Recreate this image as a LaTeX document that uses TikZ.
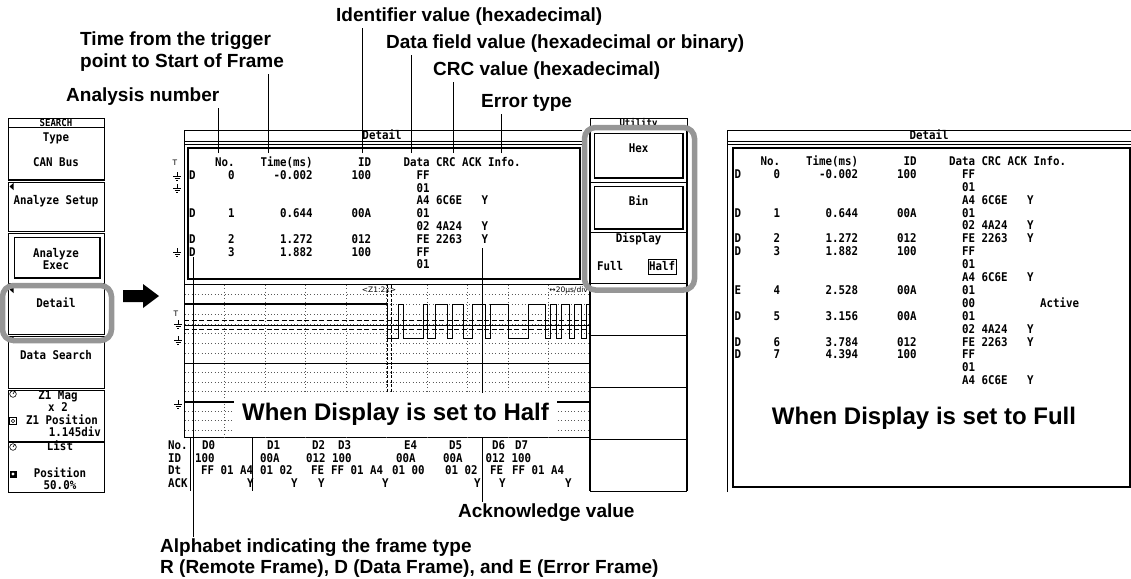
\documentclass[tikz,border=0pt]{standalone}
\usepackage{fontspec}
\setmainfont{Liberation Sans}
\newfontfamily\monof{DejaVu Sans Mono}[FakeStretch=0.9]
\newfontfamily\dvsf{DejaVu Sans}
\usetikzlibrary{calc}
\definecolor{hlgray}{RGB}{150,150,150}
\tikzset{
 mono/.style={font=\monof\bfseries\fontsize{12}{13}\selectfont, inner sep=0pt, anchor=base west},
 monoc/.style={font=\monof\bfseries\fontsize{12}{13}\selectfont, inner sep=0pt, anchor=base},
 hdrtxt/.style={font=\monof\bfseries\fontsize{10}{11}\selectfont, inner sep=0pt, anchor=base},
 lab/.style={font=\bfseries\fontsize{19}{22}\selectfont, inner sep=0pt, anchor=west},
 biglab/.style={font=\bfseries\fontsize{24}{28}\selectfont, inner sep=0pt},
 callout/.style={line width=0.9pt},
 frame/.style={line width=1pt},
 thickframe/.style={line width=2pt},
 gdots/.style={line width=0.7pt, dash pattern=on 0.7pt off 2.6pt, black!65},
 hlbox/.style={draw=hlgray, line width=5.5pt, rounded corners=11pt},
 small/.style={font=\dvsf\fontsize{7.5}{8}\selectfont, inner sep=0pt}
}
\newcommand\tX{0}\newcommand\tY{0}\newcommand\tD{0}
\newcommand\rc[3]{\node[mono] at ({\tX+6.5*(#1)},{\tY+4.3+\tD*(#2)}) {#3};}
\newcommand\hdrrow{\rc{4}{-1}{No.}\rc{11}{-1}{Time(ms)}\rc{26}{-1}{ID}\rc{33}{-1}{Data}\rc{38}{-1}{CRC}\rc{42}{-1}{ACK}\rc{46}{-1}{Info.}}
\newcommand\rowsA{%
 \rc{0}{0}{D}\rc{6}{0}{0}\rc{13}{0}{-0.002}\rc{25}{0}{100}\rc{35}{0}{FF}
 \rc{35}{1}{01}
 \rc{35}{2}{A4}\rc{38}{2}{6C6E}\rc{45}{2}{Y}
 \rc{0}{3}{D}\rc{6}{3}{1}\rc{14}{3}{0.644}\rc{25}{3}{00A}\rc{35}{3}{01}
 \rc{35}{4}{02}\rc{38}{4}{4A24}\rc{45}{4}{Y}
 \rc{0}{5}{D}\rc{6}{5}{2}\rc{14}{5}{1.272}\rc{25}{5}{012}\rc{35}{5}{FE}\rc{38}{5}{2263}\rc{45}{5}{Y}
 \rc{0}{6}{D}\rc{6}{6}{3}\rc{14}{6}{1.882}\rc{25}{6}{100}\rc{35}{6}{FF}
 \rc{35}{7}{01}}
\newcommand\rowsB{%
 \rc{35}{8}{A4}\rc{38}{8}{6C6E}\rc{45}{8}{Y}
 \rc{0}{9}{E}\rc{6}{9}{4}\rc{14}{9}{2.528}\rc{25}{9}{00A}\rc{35}{9}{01}
 \rc{35}{10}{00}\rc{47}{10}{Active}
 \rc{0}{11}{D}\rc{6}{11}{5}\rc{14}{11}{3.156}\rc{25}{11}{00A}\rc{35}{11}{01}
 \rc{35}{12}{02}\rc{38}{12}{4A24}\rc{45}{12}{Y}
 \rc{0}{13}{D}\rc{6}{13}{6}\rc{14}{13}{3.784}\rc{25}{13}{012}\rc{35}{13}{FE}\rc{38}{13}{2263}\rc{45}{13}{Y}
 \rc{0}{14}{D}\rc{6}{14}{7}\rc{14}{14}{4.394}\rc{25}{14}{100}\rc{35}{14}{FF}
 \rc{35}{15}{01}
 \rc{35}{16}{A4}\rc{38}{16}{6C6E}\rc{45}{16}{Y}}
\newcommand\gnd[2]{\draw[line width=0.6pt] (#1,#2-4) -- (#1,#2) (#1-4,#2) -- (#1+4,#2) (#1-2.5,#2+2) -- (#1+2.5,#2+2) (#1-1,#2+4) -- (#1+1,#2+4);}
\newcommand\ltri[2]{\fill (#1,#2) -- (#1+4,#2-3.5) -- (#1+4,#2+3.5) -- cycle;}
\begin{document}
\begin{tikzpicture}[x=1pt,y=-1pt]
\useasboundingbox (0,0) rectangle (1131,578);

%% ================= left menu
\draw[frame] (8,127) |- (104,118) -- (104,127);
\draw[frame] (8,127) -- (104,127);
\node[hdrtxt] (search) at (56,126) {SEARCH};
\draw[frame] (8,127) rectangle (104,180);
\draw[line width=1.8pt] (8,180) -- (104,180);
\node[monoc] (type) at (56,141) {Type};
\node[monoc] (canbus) at (56,166) {CAN Bus};
\draw[frame] (8,182) rectangle (104,231);
\ltri{9.5}{186.5}
\node[monoc] (asetup) at (56,204) {Analyze Setup};
\draw[frame] (8,233) rectangle (104,283);
\draw[frame] (14,237) rectangle (100,278);
\draw[line width=2pt] (14,278) -- (100,278) -- (100,237);
\node[monoc] (aexec1) at (56,257) {Analyze};
\node[monoc] (aexec2) at (56,269) {Exec};
\draw[frame] (8,285) rectangle (104,334);
\ltri{9.5}{289.5}
\node[monoc] (detailbtn) at (56,307) {Detail};
\draw[frame] (8,336) rectangle (104,388);
\ltri{9.5}{339.5}
\node[monoc] (dsearch) at (56,359) {Data Search};
\draw[frame] (8,390) rectangle (104,441);
\draw[line width=0.6pt] (13,394) circle (3.3) (13,394) -- (14.5,391.5);
\draw[line width=0.6pt] (9.5,417.5) rectangle (16.5,424.5) (13,421) circle (1.8);
\node[monoc] (zmag) at (58,399) {Z1 Mag};
\node[monoc] (zx) at (58,411) {x 2};
\node[monoc] (zpos) at (62,424) {Z1 Position};
\node[mono,anchor=base east] (zdiv) at (101,436) {1.145div};
\draw[frame] (8,442) rectangle (104,492);
\draw[line width=0.6pt] (13,447) circle (3.3) (13,447) -- (14.5,444.5);
\fill (9.5,470.5) rectangle (16.5,477.5);
\fill[white] (13,474) circle (1.6);
\node[monoc] (list) at (60,450) {List};
\node[monoc] (lpos) at (60,477) {Position};
\node[monoc] (lpct) at (60,489) {50.0\%};

%% big arrow
\fill (123,290) -- (143,290) -- (143,284) -- (159,296) -- (143,308) -- (143,302) -- (123,302) -- cycle;

%% ================= half screen
\draw[frame] (184,437) -- (184,130) -- (582,130);
\draw[frame] (184,141) -- (582,141);
\draw[frame] (184,144) -- (582,144);
\node[monoc] (dtitle1) at (382,139.5) {Detail};
\draw[thickframe] (188,148) rectangle (580,279);
\renewcommand\tX{189}\renewcommand\tY{175}\renewcommand\tD{12.8}
\hdrrow
\rowsA
% markers
\node[small,anchor=base] (trg1) at (175,165) {T};
\gnd{177}{176}\gnd{177}{188}\gnd{177}{252}

% waveform area
\draw[frame] (184,284) rectangle (589,437);
\foreach \k in {1,...,9} \draw[gdots] ({184+40.5*\k},285) -- ({184+40.5*\k},437);
\foreach \k in {1,...,7} \draw[gdots] (185,{285+9.75*\k}) -- (589,{285+9.75*\k});
\foreach \k in {1,...,7} \draw[gdots] (185,{363+9.6*\k}) -- (589,{363+9.6*\k});
\draw[frame] (184,363) -- (589,363);
\draw[line width=0.8pt] (184,325) -- (589,325);
\draw[line width=0.8pt, dash pattern=on 5pt off 2.5pt] (184,320) -- (589,320) (184,329) -- (589,329);
\draw[line width=1.4pt] (184,304) -- (387,304);
\draw[line width=0.9pt] (387,304) -- (387,338) -- (398,338) -- (398,304) -- (403,304) -- (403,338) -- (423,338) -- (423,304) -- (427,304) -- (427,338) -- (435,338) -- (435,304) -- (447,304) -- (447,338) -- (452,338) -- (452,304) -- (463,304) -- (463,338) -- (472,338) -- (472,304) -- (485,304) -- (485,338) -- (490,338) -- (490,304) -- (508,304) -- (508,338) -- (528,338) -- (528,304) -- (545,304) -- (545,338) -- (550,338) -- (550,304) -- (556,304) -- (556,338) -- (561,338) -- (561,304) -- (569,304) -- (569,338) -- (574,338) -- (574,304) -- (581,304) -- (581,338) -- (586,338) -- (586,304) -- (589,304);
\draw[line width=1.2pt] (184,402) -- (589,402);
\draw[line width=0.7pt, dash pattern=on 3pt off 1.5pt] (387,285) -- (387,437) (391,285) -- (391,437);
\node[small] (zoomlab) at (379,290) {<Z1:2x>};
\node[small,anchor=east] (tdiv) at (588,290) {↔20µs/div};
\node[small,anchor=base] (trg2) at (176,316) {T};
\gnd{178}{324}\gnd{178}{340}\gnd{178}{404}

%% callouts
\node[lab] (lab-id) at (336,17) {Identifier value (hexadecimal)};
\node[lab] (lab-time1) at (80,41) {Time from the trigger};
\node[lab] (lab-time2) at (80,63) {point to Start of Frame};
\node[lab] (lab-data) at (386,44) {Data field value (hexadecimal or binary)};
\node[lab] (lab-crc) at (433,71) {CRC value (hexadecimal)};
\node[lab] (lab-ana) at (66,97) {Analysis number};
\node[lab] (lab-err) at (481,103) {Error type};
\node[lab] (lab-ack) at (458,513) {Acknowledge value};
\node[lab] (lab-alpha1) at (160,548) {Alphabet indicating the frame type};
\node[lab] (lab-alpha2) at (160,569) {R (Remote Frame), D (Data Frame), and E (Error Frame)};
\coordinate (e-ana) at (218,153);
\coordinate (e-time) at (268,153);
\coordinate (e-id) at (362,153);
\coordinate (e-data) at (411,153);
\coordinate (e-crc) at (453,153);
\coordinate (e-err) at (501,153);
\coordinate (e-ack) at (482,248);
\coordinate (e-alpha) at (193,257);
\draw[callout] (e-ana) -- ([yshift=-2pt]e-ana |- lab-ana.south);
\draw[callout] (e-time) -- ([yshift=-2pt]e-time |- lab-time2.south);
\draw[callout] (e-id) -- ([yshift=-2pt]e-id |- lab-id.south);
\draw[callout] (e-data) -- ([yshift=-2pt]e-data |- lab-data.south);
\draw[callout] (e-crc) -- ([yshift=-2pt]e-crc |- lab-crc.south);
\draw[callout] (e-err) -- ([yshift=-2pt]e-err |- lab-err.south);
\draw[callout] (e-ack) -- ([yshift=2pt]e-ack |- lab-ack.north);
\draw[callout] (e-alpha) -- ([yshift=2pt]e-alpha |- lab-alpha1.north);

\node[biglab, fill=white, minimum width=323pt, minimum height=44pt] (halflab) at (395.5,414.5) {When Display is set to Half};

% bottom list
\foreach \yy/\lbl in {449/No., 462/ID, 474/Dt, 487/ACK} \node[mono] at (168,\yy) {\lbl};
\draw[frame] (190,438) -- (190,491);
\draw[frame] (252,438) -- (252,491);
\foreach \xx/\lbl in {202/D0, 267/D1, 312/D2, 338/D3, 404/E4, 449/D5, 492/D6, 515/D7} \node[mono] at (\xx,449) {\lbl};
\foreach \xx/\lbl in {195/100, 260/00A, 306/012, 332/100, 396/00A, 443/00A, 485.5/012, 511.5/100} \node[mono] at (\xx,462) {\lbl};
\foreach \xx/\lbl in {201/FF 01 A4, 260/01 02, 311/FE, 331/FF 01 A4, 392/01 00, 445/01 02, 490/FE, 512/FF 01 A4} \node[mono] at (\xx,474) {\lbl};
\foreach \xx in {247, 291, 318, 382, 474, 499, 565} \node[mono] at (\xx,487) {Y};

%% ================= right soft-key panel
\draw[frame] (590,127) |- (687,118) -- (687,127);
\node[hdrtxt] (util) at (638.5,126) {Utility};
\draw[line width=1.5pt] (590,127) -- (590,491) (687,127) -- (687,491);
\foreach \yy in {127,182,232,283,335,387,439,491} \draw[frame] (590,\yy) -- (687,\yy);
\draw[frame] (594,133) rectangle (683,178);
\draw[line width=2pt] (594,178) -- (683,178) -- (683,133);
\node[monoc] (hex) at (638.5,152) {Hex};
\draw[frame] (594,186) rectangle (683,229);
\draw[line width=2pt] (594,229) -- (683,229) -- (683,186);
\node[monoc] (bin) at (638.5,205) {Bin};
\node[monoc] (disp) at (638.5,242) {Display};
\node[mono] (full) at (597,270) {Full};
\draw[frame] (648,259) rectangle (676,274);
\node[monoc] (half) at (662,270) {Half};

%% ================= full screen
\draw[frame] (727,492) -- (727,130) -- (1131,130);
\draw[frame] (727,141) -- (1131,141);
\draw[frame] (727,144) -- (1131,144);
\node[monoc] (dtitle2) at (929,139.5) {Detail};
\draw[thickframe] (733,148) rectangle (1129.5,487);
\renewcommand\tX{734.5}\renewcommand\tY{174}\renewcommand\tD{12.9}
\hdrrow
\rowsA
\rowsB
\node[biglab] (fulllab) at (924,418) {When Display is set to Full};

%% highlight frames
\draw[hlbox] (2.5,285.5) rectangle (111.5,340.5);
\draw[hlbox] (584.5,127.5) rectangle (694.5,290);
\end{tikzpicture}
\end{document}
